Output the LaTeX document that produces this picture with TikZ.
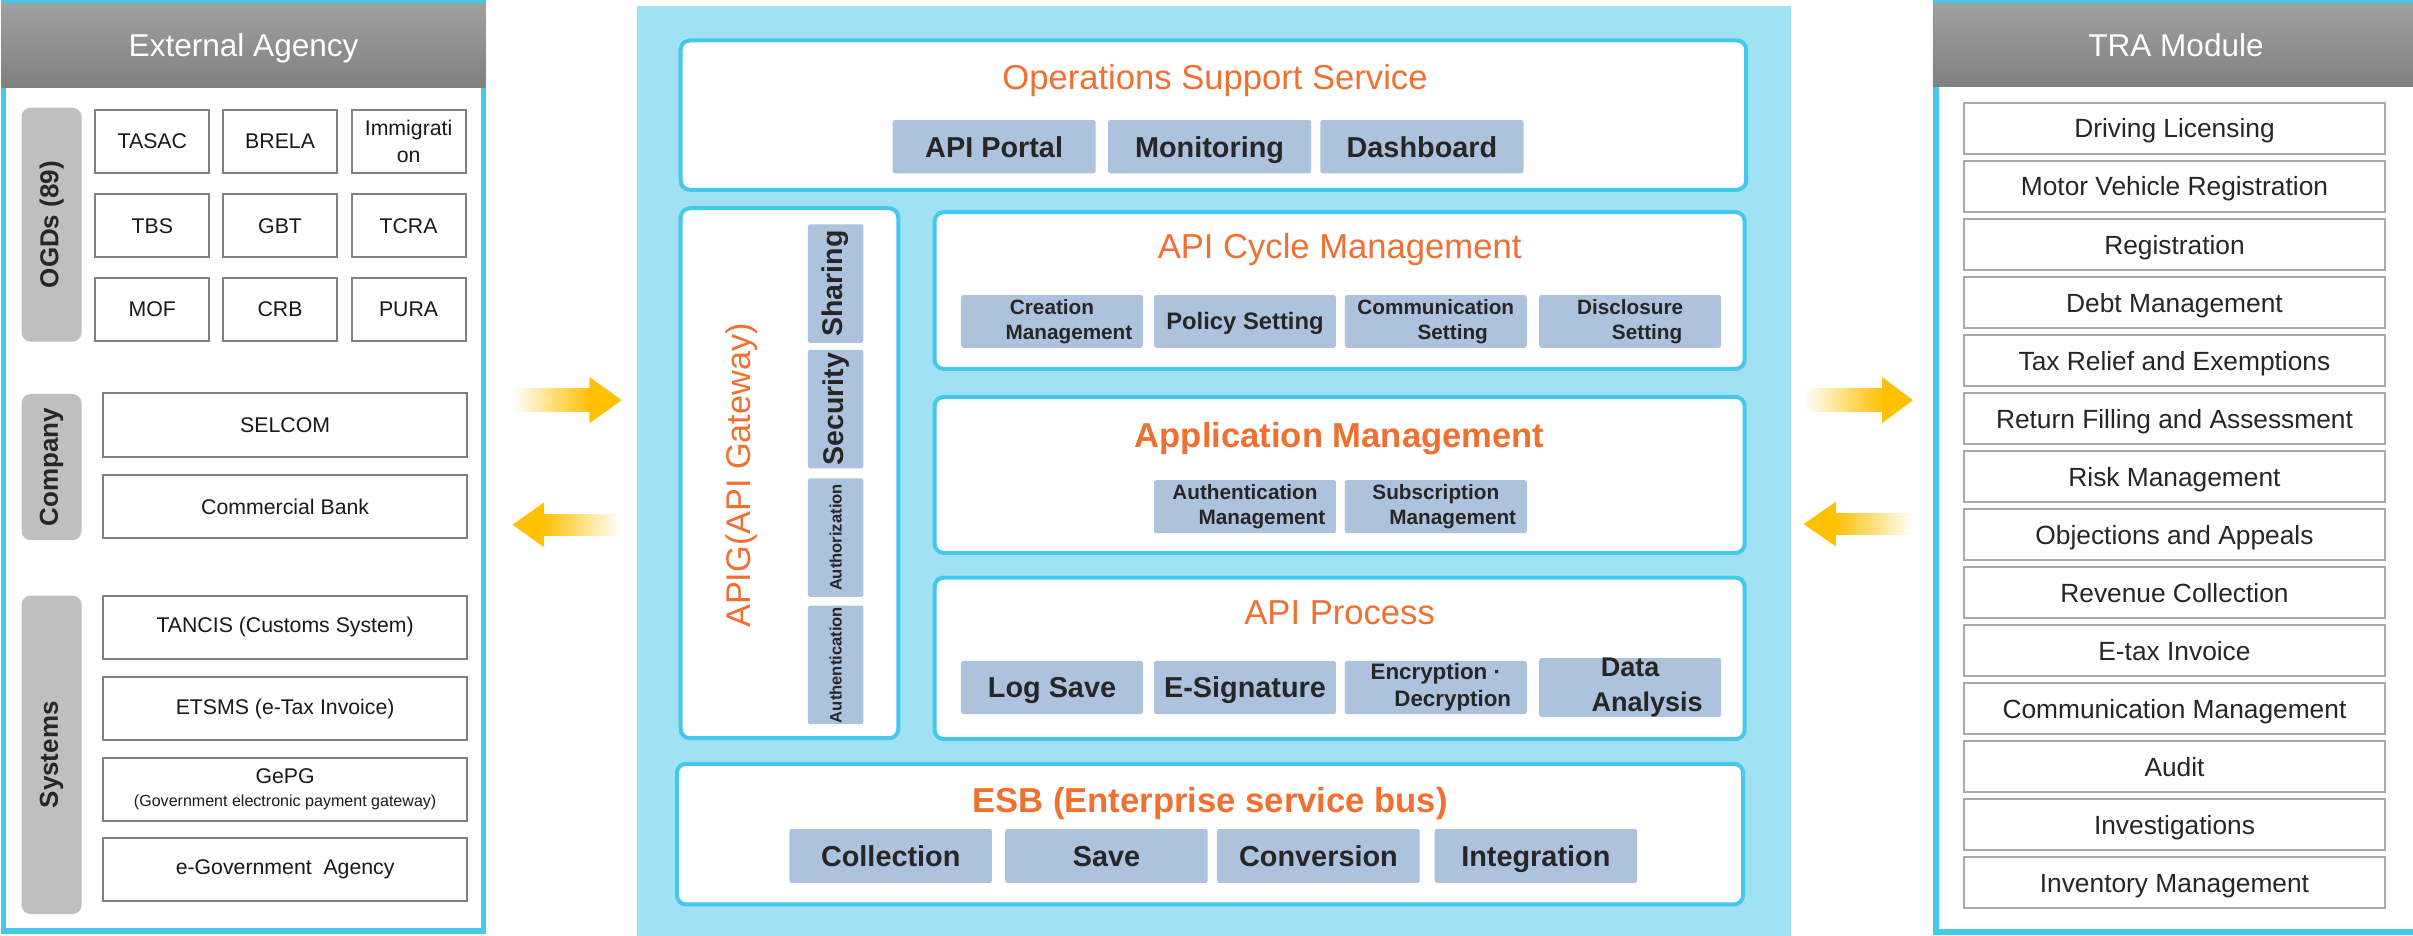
\documentclass[tikz,border=0pt]{standalone}
\usepackage{fontspec}
\setmainfont{Liberation Sans}
\usepackage{xcolor}
\usepackage{tikz}

\definecolor{rimblue}{RGB}{68,200,236}
\definecolor{bgblue}{RGB}{160,226,244}
\definecolor{tilefill}{RGB}{173,195,221}
\definecolor{titleorange}{RGB}{240,112,50}
\definecolor{pillgray}{RGB}{191,191,191}
\definecolor{edgegray}{RGB}{128,128,128}
\definecolor{listgray}{RGB}{170,170,170}
\definecolor{hdtop}{RGB}{160,160,160}
\definecolor{hdbot}{RGB}{128,128,128}
\definecolor{amber}{RGB}{255,192,0}
\definecolor{inkdark}{RGB}{38,38,38}

\newcommand{\pxu}{0.15mm}
\newcommand{\fsz}[2]{\fontsize{#1}{#2}\selectfont}
\newcommand{\shiftln}{\hspace*{9.4pt}}

\begin{document}
\begin{tikzpicture}[
  x=0.15mm, y=-0.15mm,
  wh/.style 2 args={minimum width=#1*\pxu, minimum height=#2*\pxu},
  capline/.style={text height=#1, text depth=0pt},
  panel/.style={draw=rimblue, line width=3.5*\pxu, fill=white, inner sep=0pt},
  header/.style={top color=hdtop, bottom color=hdbot, text=white, inner sep=0pt, capline=6.3pt, font=\fsz{8.75}{10.5}},
  pill/.style={fill=pillgray, rounded corners=6*\pxu, inner sep=0pt, rotate=90, text=inkdark, font=\bfseries\fsz{7.2}{8.6}},
  cell/.style={draw=edgegray, line width=1.3*\pxu, fill=white, inner sep=0pt, align=center, text=black!90, font=\fsz{5.9}{7.4}},
  module/.style={draw=listgray, line width=1.3*\pxu, fill=white, inner sep=0pt, text=black!85, capline=5.25pt, font=\fsz{7.3}{8.8}},
  layer/.style={draw=rimblue, line width=2.6*\pxu, fill=white, rounded corners=6*\pxu, inner sep=0pt},
  title/.style={text=titleorange, inner sep=0pt, capline=6.9pt, font=\fsz{9.6}{11.5}},
  tile/.style={fill=tilefill, rounded corners=1.5*\pxu, inner sep=0pt, text=inkdark, align=center, font=\bfseries\fsz{8}{9.6}},
  twoline/.style={font=\bfseries\fsz{5.75}{6.9}},
  midline/.style={capline=4.75pt, font=\bfseries\fsz{6.6}{7.9}},
  cryptline/.style={font=\bfseries\fsz{6.2}{7.4}},
  dataline/.style={font=\bfseries\fsz{7.5}{9.6}},
  plain/.style={capline=5.75pt},
  guard/.style={tile, rotate=90, font=\bfseries\fsz{7.9}{9.5}},
  guardsm/.style={guard, font=\bfseries\fsz{4.6}{5.5}}
]
\useasboundingbox[fill=white] (0,0) rectangle (1568,608);

\node[panel, wh={311.7}{603.5}] (ext) at (158.2,303.3) {};
\node[header, wh={314.6}{54.5}] (exthead) at (158.3,29.3) {External Agency};
\node[pill, wh={152}{39}] (ogd) at (33.5,146) {OGDs (89)};
\foreach \nm/\lbl/\cx/\cy in {tasac/TASAC/99/92, brela/BRELA/182/92, immig/{Immigrati\\on}/265.5/92,
    tbs/TBS/99/146.75, gbt/GBT/182/146.75, tcra/TCRA/265.5/146.75,
    mof/MOF/99/201, crb/CRB/182/201, pura/PURA/265.5/201}
  \node[cell, wh={74}{41}] (\nm) at (\cx,\cy) {\lbl};
\node[pill, wh={95}{39}] (comp) at (33.5,303.5) {Company};
\node[cell, wh={236.6}{41.2}] (selcom) at (185.3,276.2) {SELCOM};
\node[cell, wh={236.6}{41}] (bank) at (185.3,329.1) {Commercial Bank};
\node[pill, wh={207}{39}] (sys) at (33.5,490.5) {Systems};
\foreach \nm/\lbl/\cy in {tancis/TANCIS (Customs System)/407.5, etsms/ETSMS (e-Tax Invoice)/460.5,
    gepg/{GePG\\[-0.9pt]{\fsz{4.45}{5.3}(Government electronic payment gateway)}}/513,
    egov/{e-Government\ \ Agency}/565.1}
  \node[cell, wh={236.6}{41}] (\nm) at (185.3,\cy) {\lbl};

\shade[left color=white, right color=amber] (333,252.5) rectangle (384,267.5);
\fill[amber] (383,245) -- (404,260) -- (383,275) -- cycle;
\shade[left color=amber, right color=white] (352.5,334) rectangle (403,348);
\fill[amber] (353.5,326.5) -- (333,341) -- (353.5,355.5) -- cycle;

\node[fill=bgblue, inner sep=0pt, wh={750}{604}] (core) at (789,306) {};

\node[layer, wh={692.4}{97}] (oss) at (788.5,74.8) {};
\node[title] (osst) at (789.5,50) {Operations Support Service};
\foreach \nm/\lbl/\cx in {portal/API Portal/646, monitor/Monitoring/786, dash/Dashboard/924}
  \node[tile, plain, wh={132}{34.6}] (\nm) at (\cx,95.3) {\lbl};

\node[layer, wh={141.4}{344.4}] (apig) at (513,307.5) {};
\node[title, rotate=90, font=\fsz{9.5}{11.4}] (apigt) at (479.5,309) {APIG(API Gateway)};
\foreach \nm/\lbl/\cy/\st in {share/Sharing/184.25/guard, secure/Security/265.9/guard,
    authz/Authorization/349.3/guardsm, authn/Authentication/432.1/guardsm}
  \node[\st, wh={77}{36}] (\nm) at (543,\cy) {\lbl};

\node[layer, wh={526.4}{101.9}] (cycle) at (870.5,188.75) {};
\node[title] (cyclet) at (870.5,160) {API Cycle Management};
\foreach \nm/\lbl/\cx/\st in {create/{Creation\\\shiftln Management}/683.6/twoline, policy/Policy Setting/809/midline,
    comm/{Communication\\\shiftln Setting}/933/twoline, disc/{Disclosure\\\shiftln Setting}/1059.3/twoline}
  \node[tile, \st, wh={118.2}{34.3}] (\nm) at (\cx,208.85) {\lbl};

\node[layer, wh={526.4}{101.4}] (appm) at (870.5,308.6) {};
\node[title, font=\bfseries\fsz{9.6}{11.5}] (appmt) at (870.5,282.6) {Application Management};
\foreach \nm/\lbl/\cx in {authm/{Authentication\\\shiftln Management}/809, subm/{Subscription\\\shiftln Management}/933}
  \node[tile, twoline, wh={118.2}{34.5}] (\nm) at (\cx,329.25) {\lbl};

\node[layer, wh={526.4}{105}] (proc) at (870.5,427.8) {};
\node[title] (proct) at (870.5,398) {API Process};
\foreach \nm/\lbl/\cx/\st in {logsave/Log Save/683.6/plain, esig/E-Signature/809/plain,
    crypt/{Encryption ·\\\shiftln Decryption}/933/cryptline, data/{Data\\\shiftln Analysis}/1059.3/dataline}
  \node[tile, \st, wh={118.2}{34.5}] (\nm) at (\cx,446.75) {\lbl};

\node[layer, wh={692.8}{91.4}] (esb) at (786.3,542) {};
\node[title, font=\bfseries\fsz{9.6}{11.5}] (esbt) at (786.3,520) {ESB (Enterprise service bus)};
\foreach \nm/\lbl/\cx in {collect/Collection/578.8, save/Save/719, conv/Conversion/856.75, integ/Integration/998}
  \node[tile, plain, wh={131.6}{35}] (\nm) at (\cx,556.2) {\lbl};

\shade[left color=white, right color=amber] (1172,252.5) rectangle (1224,267.5);
\fill[amber] (1223,245) -- (1243,260) -- (1223,275) -- cycle;
\shade[left color=amber, right color=white] (1192,333.5) rectangle (1243,347.5);
\fill[amber] (1193,326) -- (1172,340.6) -- (1193,355) -- cycle;

\node[panel, wh={314}{604}] (tra) at (1415,303.5) {};
\node[header, wh={316}{54.5}] (trahead) at (1414,29.25) {TRA Module};
\foreach \lbl [count=\i from 0] in {Driving Licensing, Motor Vehicle Registration, Registration, Debt Management,
    Tax Relief and Exemptions, Return Filling and Assessment, Risk Management, Objections and Appeals,
    Revenue Collection, E-tax Invoice, Communication Management, Audit, Investigations, Inventory Management}
  \node[module, wh={274}{33.4}] (mod\i) at (1413,{83.5+37.7*\i}) {\lbl};
\end{tikzpicture}
\end{document}
